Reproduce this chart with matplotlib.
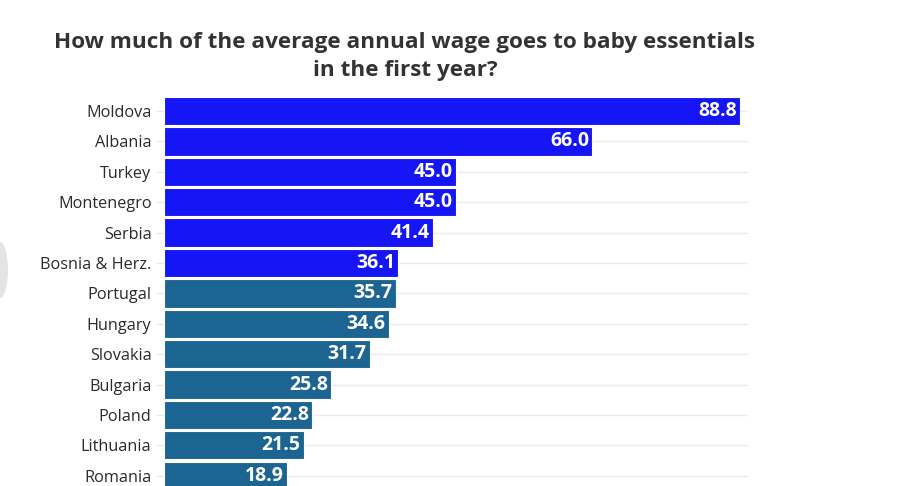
import matplotlib
matplotlib.use("Agg")
import matplotlib.pyplot as plt
from matplotlib.patches import Ellipse

countries = ["Moldova", "Albania", "Turkey", "Montenegro", "Serbia", "Bosnia & Herz.",
             "Portugal", "Hungary", "Slovakia", "Bulgaria", "Poland", "Lithuania", "Romania"]
shares = [88.8, 66.0, 45.0, 45.0, 41.4, 36.1, 35.7, 34.6, 31.7, 25.8, 22.8, 21.5, 18.9]
non_eu = ["Moldova", "Albania", "Turkey", "Montenegro", "Serbia", "Bosnia & Herz."]

plt.rcParams["font.family"] = ["Open Sans", "DejaVu Sans"]

fig = plt.figure(figsize=(9, 4.86), dpi=100)
ax = fig.add_axes([164 / 900, 0.0, (748 - 164) / 900, (486 - 95) / 486])

colors = ["#1515f5" if c in non_eu else "#1c6592" for c in countries]
pos = list(range(len(countries)))
ax.barh(pos, shares, height=0.93, color=colors, edgecolor="white", linewidth=0.8, zorder=2)

for p, v in zip(pos, shares):
    ax.text(v - 0.5, p, f"{v:.1f}", color="white", fontsize=14, fontweight="bold",
            ha="right", va="center", zorder=3)

ax.set_xlim(0, 90)
ax.set_ylim(12.34, -0.53)
ax.set_yticks(pos)
ax.set_yticklabels(countries, fontsize=11.7, color="#2a2a2a")
ax.set_xticks([])
ax.tick_params(axis="y", length=6, color="#e6e6e6", pad=3)
for y in pos:
    ax.axhline(y, color="#ebebeb", linewidth=1, zorder=1)
for s in ax.spines.values():
    s.set_visible(False)

fig.text(0.450, 0.935, "How much of the average annual wage goes to baby essentials\nin the first year?",
         ha="center", va="top", fontsize=16.2, fontweight="bold", color="#333333", linespacing=1.45)

fig.patches.append(Ellipse((0.0, 216 / 486), 16 / 900, 56 / 486, transform=fig.transFigure,
                           facecolor="#e4e4e4", edgecolor="none"))

fig.savefig("out.png", dpi=100, facecolor="white")
